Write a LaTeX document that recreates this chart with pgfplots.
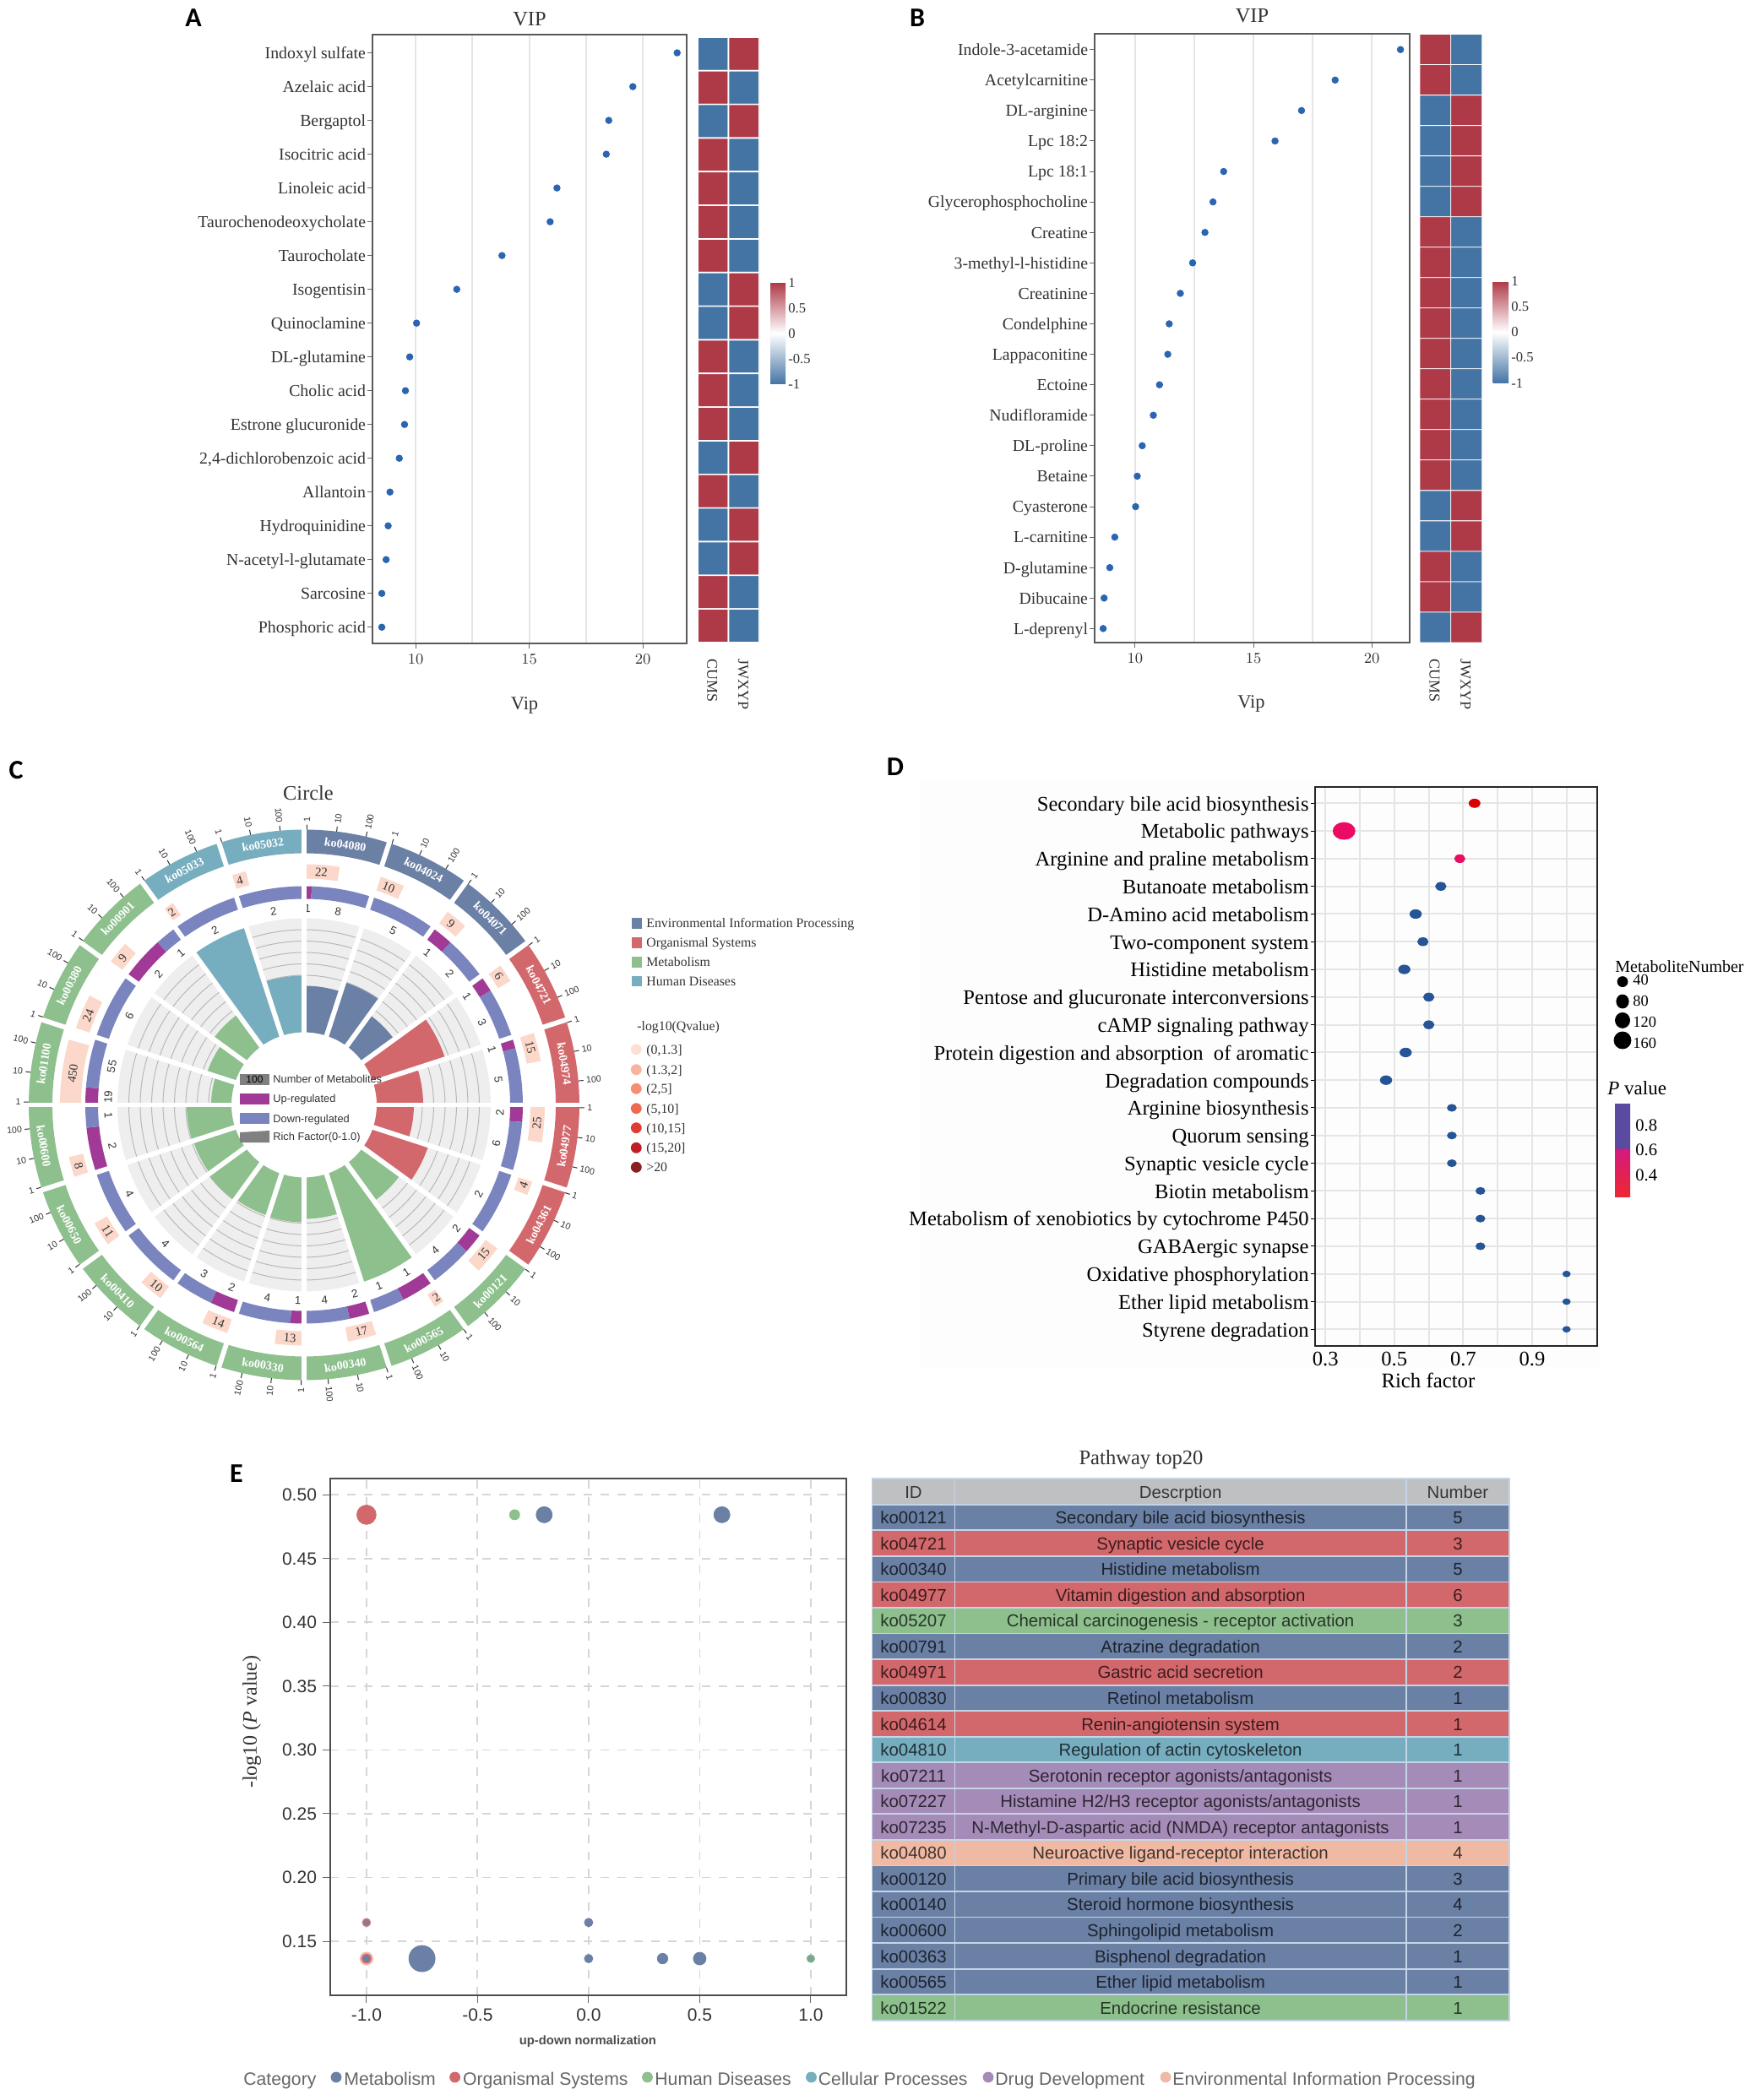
\documentclass[border=0pt]{standalone}
\usepackage{fontspec}
\setmainfont{Liberation Serif}
\newfontfamily\arial{Liberation Sans}
\newfontfamily\panelfont{Carlito}
\usepackage{pgfplots}
\pgfplotsset{compat=1.18}
\usepgfplotslibrary{polar}

\newcommand\fs[1]{\fontsize{#1pt}{#1pt}\selectfont}

\definecolor{dotblue}{HTML}{2B64B0}
\definecolor{envc}{HTML}{6A80A4}
\definecolor{orgc}{HTML}{D3686C}
\definecolor{metc}{HTML}{8DC08D}
\definecolor{humc}{HTML}{76ADBF}
\definecolor{drugc}{HTML}{A58BB8}
\definecolor{peach}{HTML}{EFB9A4}
\definecolor{boxc}{HTML}{FBD8CA}
\definecolor{upc}{HTML}{A03A96}
\definecolor{downc}{HTML}{7A84BE}
\definecolor{gridblue}{HTML}{C5D5E8}
\definecolor{headc}{HTML}{BFC0C2}
\definecolor{txt}{HTML}{333333}
\definecolor{q1}{HTML}{FEE0D2}
\definecolor{q2}{HTML}{F9B29D}
\definecolor{q3}{HTML}{F58E72}
\definecolor{q4}{HTML}{F0694F}
\definecolor{q5}{HTML}{E03C32}
\definecolor{q6}{HTML}{BE1E24}
\definecolor{q7}{HTML}{8A1F22}

\pgfplotsset{
  colormap={rb}{rgb255(0cm)=(68,116,164) color(1cm)=(white) rgb255(2cm)=(174,58,71)},
  colormap={pv}{rgb255(0cm)=(238,40,48) rgb255(5.2cm)=(212,25,127) rgb255(5.25cm)=(91,75,160) rgb255(10cm)=(91,75,160)},
  vip/.style={
    scale only axis, anchor=north west,
    axis line style={draw=black!65,line width=1pt},
    xtick pos=bottom, ytick pos=left, tick align=outside,
    major tick length=2.8pt, tick style={draw=black!60,line width=0.5pt},
    xmajorgrids, xminorgrids, minor tick length=0pt,
    grid style={draw=black!10,line width=1pt},
    tick label style={text=txt},
    yticklabel style={font=\fs{9.9},inner sep=1pt,text height=8.8pt,text depth=2pt},
    xticklabel style={font=\fs{9.5}},
    every axis title shift=0pt,
    title style={font=\fs{12.2},text=txt,anchor=center},
    xlabel style={font=\fs{11.2},text=txt,anchor=center},
    xtick={10,15,20}, minor xtick={12.5,17.5},
  },
  heat/.style={
    scale only axis, anchor=north west,
    axis line style={draw=none}, ytick=\empty, xtick={0,1}, xticklabels={CUMS,JWXYP},
    tick style={draw=none}, xmin=-0.5, xmax=1.5,
    xticklabel style={rotate=-90,anchor=west,font=\fs{9},text=txt,xshift=6pt,yshift=-0.5pt},
    colormap name=rb, point meta min=-1, point meta max=1, colorbar,
  },
  cbar/.style={
    ytick={-1,-0.5,0,0.5,1}, yticklabels={-1,-0.5,0,0.5,1},
    major tick length=0pt, axis line style={draw=none},
    yticklabel style={font=\fs{8.3},text=txt,inner sep=1.5pt},
  },
}

% one ring sector, clock degrees and radii in px
\newcommand\sector[5]{%
  \gdef\pts{}%
  \pgfmathsetmacro\stp{(#2-#1)/12}%
  \foreach \kk in {0,...,12}{\pgfmathsetmacro\ang{90-(#1+\kk*\stp)}\xdef\pts{\pts(\ang,#4)}}%
  \foreach \kk in {12,...,0}{\pgfmathsetmacro\ang{90-(#1+\kk*\stp)}\xdef\pts{\pts(\ang,#3)}}%
  \edef\tmp{\noexpand\addplot[draw=none,fill=#5] coordinates {\pts} -- cycle;}\tmp}
\newcommand\arcl[3]{%
  \gdef\pts{}%
  \foreach \kk in {0,...,6}{\pgfmathsetmacro\ang{90-(#1+\kk*(#2-#1)/6)}\xdef\pts{\pts(\ang,#3)}}%
  \edef\tmp{\noexpand\addplot[draw=black!28,line width=0.5pt] coordinates {\pts};}\tmp}
\newcommand\ctext[4]{% clock, radius, node options, text
  \pgfmathsetmacro\tang{90-(#1)}%
  \pgfmathsetmacro\trot{(#1<90||#1>270)?-(#1):180-(#1)}%
  \edef\tmp{\noexpand\node[rotate=\trot,\unexpanded{#3}] at (axis cs:\tang,#2) {\unexpanded{#4}};}\tmp}
\newcommand\rtick[2]{%
  \pgfmathsetmacro\tang{90-(#1)}%
  \edef\tmp{\noexpand\addplot[draw=black!80,line width=0.5pt] coordinates {(\tang,326)(\tang,332)};}\tmp
  \pgfmathsetmacro\trot{(#1<180)?90-(#1):270-(#1)}%
  \pgfmathsetmacro\tsd{(#1<180)?0:1}%
  \ifdim\tsd pt<0.5pt
    \edef\tmp{\noexpand\node[rotate=\trot,anchor=west,inner sep=1pt,font=\noexpand\arial\noexpand\fs{5.3},text=txt] at (axis cs:\tang,333) {#2};}\tmp
  \else
    \edef\tmp{\noexpand\node[rotate=\trot,anchor=east,inner sep=1pt,font=\noexpand\arial\noexpand\fs{5.3},text=txt] at (axis cs:\tang,333) {#2};}\tmp
  \fi}
% start, name, colour, box arc, box text, up, down, bar radius, box extra
\newcommand\seg[9]{%
  \pgfmathsetmacro\sega{#1}%
  \pgfmathsetmacro\segb{#1+18}%
  \pgfmathsetmacro\segm{#1+9}%
  \sector{\sega}{\segb}{86}{221}{black!6.5}%
  \foreach \gr in {99.5,113,126.5,140,153.5,167,180.5,194,207.5}{\arcl{\sega}{\segb}{\gr}}%
  \sector{\sega}{\segb}{86}{#8}{#3}%
  \sector{\sega}{\segb}{298}{326}{#3}%
  \pgfmathsetmacro\boxe{#1+#4}%
  \pgfmathsetmacro\boxi{268-#9}\pgfmathsetmacro\boxo{285+#9}%
  \sector{\sega}{\boxe}{\boxi}{\boxo}{boxc}%
  \pgfmathsetmacro\segf{#1+18*#6/(#6+#7)}%
  \ifnum#6>0 \sector{\sega}{\segf}{244}{259}{upc}\fi
  \sector{\segf}{\segb}{244}{259}{downc}%
  \pgfmathsetmacro\boxm{#1+#4/2}%
  \ctext{\boxm}{276.5}{font=\fs{7.3},text=txt,inner sep=0pt}{#5}%
  \ctext{\segm}{312}{font=\bfseries\fs{7},text=white,inner sep=0pt}{#2}%
  \ifnum#6>0
    \pgfmathsetmacro\midu{(\sega+\segf)/2}%
    \ctext{\midu}{232}{font=\arial\fs{6.6},text=txt,inner sep=0pt}{#6}%
  \fi
  \pgfmathsetmacro\midd{(\segf+\segb)/2}%
  \ctext{\midd}{232}{font=\arial\fs{6.6},text=txt,inner sep=0pt}{#7}%
  \pgfmathsetmacro\tka{#1+0.6}\rtick{\tka}{1}%
  \pgfmathsetmacro\tka{#1+6.8}\rtick{\tka}{10}%
  \pgfmathsetmacro\tka{#1+13}\rtick{\tka}{100}}
\newcommand\spoke[1]{\addplot[draw=white,line width=2.9pt] coordinates {(#1,84)(#1,327)};}

% table row in px coordinates
\newcommand\trow[5]{%
  \pgfmathsetmacro\ya{1751.2+#1*30.55}\pgfmathsetmacro\yb{\ya+30.55}\pgfmathsetmacro\ym{\ya+22.9}%
  \edef\tmp{\noexpand\addplot[fill=#5,draw=gridblue,line width=0.9pt] coordinates {(1032.4,\ya)(1130.5,\ya)(1130.5,\yb)(1032.4,\yb)} -- cycle;
    \noexpand\addplot[fill=#5,draw=gridblue,line width=0.9pt] coordinates {(1130.5,\ya)(1664.8,\ya)(1664.8,\yb)(1130.5,\yb)} -- cycle;
    \noexpand\addplot[fill=#5,draw=gridblue,line width=0.9pt] coordinates {(1664.8,\ya)(1787,\ya)(1787,\yb)(1664.8,\yb)} -- cycle;
    \noexpand\node[tcell] at (axis cs:1081.5,\ym) {\unexpanded{#2}};
    \noexpand\node[tcell] at (axis cs:1397.6,\ym) {\unexpanded{#3}};
    \noexpand\node[tcell] at (axis cs:1725.9,\ym) {\unexpanded{#4}};}\tmp}
\newcommand\ldot[3]{\addplot[only marks,mark=*,mark size=#3pt,mark options={fill=#1,draw=#1}] coordinates {#2};}

\begin{document}
\begin{tikzpicture}[
  tcell/.style={font=\arial\fs{10.2},text=black,text opacity=0.72,inner sep=0pt,anchor=base},
  lgs/.style={font=\fs{7.9},text=txt,anchor=base west,inner sep=0pt},
  lgc/.style={font=\arial\fs{6.4},text=txt,anchor=base west,inner sep=0pt},
  lge/.style={font=\arial\fs{10.6},text=black!60,anchor=base west,inner sep=0pt}]
\path[use as bounding box] (0,0) rectangle (1032.5pt,1243.5pt);
\fill[black!0.8] (544.5pt,434pt) rectangle (947.5pt,782.5pt);

% panel A
\begin{axis}[vip, at={(220.5pt,1223pt)}, width=186pt, height=360.5pt,
  xmin=8.10, xmax=21.93, ymin=-0.48, ymax=17.54, ytick={0,...,17},
  yticklabels={Phosphoric acid,Sarcosine,N-acetyl-l-glutamate,Hydroquinidine,Allantoin,{2,4-dichlorobenzoic acid},Estrone glucuronide,Cholic acid,DL-glutamine,Quinoclamine,Isogentisin,Taurocholate,Taurochenodeoxycholate,Linoleic acid,Isocitric acid,Bergaptol,Azelaic acid,Indoxyl sulfate},
  title=VIP, title style={at={(axis description cs:0.5,1.0257)}},
  xlabel=Vip, xlabel style={at={(axis description cs:0.484,-0.1018)}}]
\addplot[only marks,mark=*,mark size=1.9pt,dotblue] coordinates {
 (21.51,17)(19.56,16)(18.50,15)(18.39,14)(16.22,13)(15.92,12)(13.80,11)(11.81,10)(10.04,9)
 (9.74,8)(9.55,7)(9.51,6)(9.28,5)(8.87,4)(8.79,3)(8.70,2)(8.51,1)(8.51,0)};
\end{axis}
\begin{axis}[heat, at={(413pt,1221.5pt)}, width=36.5pt, height=358.5pt, ymin=-0.5, ymax=17.5,
  colorbar style={cbar, at={(1.178,0.5947)}, anchor=north west, width=9pt, height=60.2pt}]
\addplot[matrix plot*, mesh/cols=2, mesh/rows=18, point meta=explicit, draw=white, line width=0.8pt] table[meta=c] {
x y c
0 17 -1
1 17 1
0 16 1
1 16 -1
0 15 -1
1 15 1
0 14 1
1 14 -1
0 13 1
1 13 -1
0 12 1
1 12 -1
0 11 1
1 11 -1
0 10 -1
1 10 1
0 9 -1
1 9 1
0 8 1
1 8 -1
0 7 1
1 7 -1
0 6 1
1 6 -1
0 5 -1
1 5 1
0 4 1
1 4 -1
0 3 -1
1 3 1
0 2 -1
1 2 1
0 1 1
1 1 -1
0 0 1
1 0 -1
};
\end{axis}

% panel B
\begin{axis}[vip, at={(648pt,1223.5pt)}, width=186.5pt, height=360.5pt,
  xmin=8.29, xmax=21.6, ymin=-0.46, ymax=19.52, ytick={0,...,19},
  yticklabels={L-deprenyl,Dibucaine,D-glutamine,L-carnitine,Cyasterone,Betaine,DL-proline,Nudifloramide,Ectoine,Lappaconitine,Condelphine,Creatinine,3-methyl-l-histidine,Creatine,Glycerophosphocholine,Lpc 18:1,Lpc 18:2,DL-arginine,Acetylcarnitine,Indole-3-acetamide},
  title=VIP, title style={at={(axis description cs:0.5,1.0297)}},
  xlabel=Vip, xlabel style={at={(axis description cs:0.497,-0.101)}}]
\addplot[only marks,mark=*,mark size=1.9pt,dotblue] coordinates {
 (21.21,19)(18.45,18)(17.03,17)(15.91,16)(13.74,15)(13.29,14)(12.95,13)(12.43,12)(11.91,11)(11.44,10)
 (11.38,9)(11.03,8)(10.77,7)(10.30,6)(10.09,5)(10.02,4)(9.14,3)(8.93,2)(8.69,1)(8.65,0)};
\end{axis}
\begin{axis}[heat, at={(840.5pt,1223.2pt)}, width=36.75pt, height=360.2pt, ymin=-0.5, ymax=19.5,
  colorbar style={cbar, at={(1.178,0.594)}, anchor=north west, width=9.2pt, height=60.3pt}]
\addplot[matrix plot*, mesh/cols=2, mesh/rows=20, point meta=explicit, draw=white, line width=0.4pt] table[meta=c] {
x y c
0 19 1
1 19 -1
0 18 1
1 18 -1
0 17 -1
1 17 1
0 16 -1
1 16 1
0 15 -1
1 15 1
0 14 -1
1 14 1
0 13 1
1 13 -1
0 12 1
1 12 -1
0 11 1
1 11 -1
0 10 1
1 10 -1
0 9 1
1 9 -1
0 8 1
1 8 -1
0 7 1
1 7 -1
0 6 1
1 6 -1
0 5 1
1 5 -1
0 4 -1
1 4 1
0 3 -1
1 3 1
0 2 1
1 2 -1
0 1 1
1 1 -1
0 0 -1
1 0 1
};
\end{axis}

% panel C
\begin{polaraxis}[scale only axis, width=340pt, height=340pt, at={(180pt,589.25pt)}, anchor=center,
  hide axis, clip=false, xmin=0, xmax=360, ymin=0, ymax=340]
\seg{0}{ko04080}{envc}{8.5}{22}{1}{8}{141}{0}
\seg{18}{ko04024}{envc}{6.5}{10}{0}{5}{153}{0}
\seg{36}{ko04071}{envc}{6}{9}{1}{2}{132}{0}
\seg{54}{ko04721}{orgc}{5}{6}{1}{3}{176}{0}
\seg{72}{ko04974}{orgc}{7.5}{15}{1}{5}{141}{0}
\seg{90}{ko04977}{orgc}{9}{25}{2}{6}{130}{0}
\seg{108}{ko04361}{orgc}{4}{4}{0}{2}{155}{0}
\seg{126}{ko00121}{metc}{7.5}{15}{2}{4}{141}{0}
\seg{144}{ko00565}{metc}{3}{2}{1}{1}{221}{0}
\seg{162}{ko00340}{metc}{7.5}{17}{2}{4}{135}{0}
\seg{180}{ko00330}{metc}{7}{13}{1}{4}{139}{0}
\seg{198}{ko00564}{metc}{7}{14}{2}{3}{138}{0}
\seg{216}{ko00410}{metc}{6.5}{10}{0}{4}{140}{0}
\seg{234}{ko00650}{metc}{6.5}{11}{0}{4}{138}{0}
\seg{252}{ko00600}{metc}{5.5}{8}{2}{1}{139}{0}
\seg{270}{ko01100}{metc}{15.5}{450}{19}{55}{110}{4}
\seg{288}{ko00380}{metc}{9}{24}{0}{6}{121}{0}
\seg{306}{ko00901}{metc}{6}{9}{2}{1}{133}{0}
\seg{324}{ko05033}{humc}{3}{2}{0}{2}{221}{0}
\seg{342}{ko05032}{humc}{4}{4}{0}{2}{153}{0}
\spoke{90}\spoke{72}\spoke{54}\spoke{36}\spoke{18}\spoke{0}\spoke{-18}\spoke{-36}\spoke{-54}\spoke{-72}
\spoke{-90}\spoke{-108}\spoke{-126}\spoke{-144}\spoke{-162}\spoke{-180}\spoke{-198}\spoke{-216}\spoke{-234}\spoke{-252}
\end{polaraxis}

% panel D
\begin{axis}[scale only axis, anchor=north west, at={(778.5pt,777.5pt)}, width=167pt, height=331pt,
  xmin=0.27, xmax=1.089, ymin=-0.6, ymax=19.59, ytick={0,...,19},
  yticklabels={Styrene degradation,Ether lipid metabolism,Oxidative phosphorylation,GABAergic synapse,Metabolism of xenobiotics by cytochrome P450,Biotin metabolism,Synaptic vesicle cycle,Quorum sensing,Arginine biosynthesis,Degradation compounds,Protein digestion and absorption~~of aromatic,cAMP signaling pathway,Pentose and glucuronate interconversions,Histidine metabolism,Two-component system,D-Amino acid metabolism,Butanoate metabolism,Arginine and praline metabolism,Metabolic pathways,Secondary bile acid biosynthesis},
  xtick={0.3,0.5,0.7,0.9}, xticklabels={0.3,0.5,0.7,0.9}, minor xtick={0.4,0.6,0.8,1.0},
  axis line style={draw=black!85,line width=1pt}, xtick pos=bottom, ytick pos=left, tick align=outside,
  major tick length=2.5pt, minor tick length=0pt, xtick style={draw=none}, ytick style={draw=black,line width=0.5pt},
  grid=both, grid style={draw=black!10,line width=1pt},
  yticklabel style={font=\fs{12.3},inner sep=1pt,text height=11.4pt,text depth=2.6pt}, xticklabel style={font=\fs{12.3},inner sep=1pt},
  xlabel=Rich factor, xlabel style={font=\fs{12.4},anchor=center,at={(axis description cs:0.401,-0.062)}}]
\addplot[only marks,mark=*,mark size=2.5pt,mark options={xscale=1.3,fill=red!85!black,draw=red!85!black},color=red] coordinates {(0.733,19)};
\addplot[only marks,mark=*,mark size=5pt,mark options={xscale=1.3,fill=magenta!60!red,draw=magenta!60!red}] coordinates {(0.354,18)};
\addplot[only marks,mark=*,mark size=2.35pt,mark options={xscale=1.3,fill=magenta!60!red,draw=magenta!60!red}] coordinates {(0.69,17)};
\addplot[only marks,mark=*,mark size=2.4pt,mark options={xscale=1.3,fill=dotblue!85!black,draw=dotblue!85!black}] coordinates {(0.635,16)(0.583,14)(0.6,12)(0.6,11)};
\addplot[only marks,mark=*,mark size=2.6pt,mark options={xscale=1.3,fill=dotblue!85!black,draw=dotblue!85!black}] coordinates {(0.562,15)(0.529,13)(0.533,10)(0.476,9)};
\addplot[only marks,mark=*,mark size=2.05pt,mark options={xscale=1.3,fill=dotblue!85!black,draw=dotblue!85!black}] coordinates {(0.667,8)(0.667,7)(0.667,6)(0.75,5)(0.75,4)(0.75,3)};
\addplot[only marks,mark=*,mark size=1.7pt,mark options={xscale=1.3,fill=dotblue!85!black,draw=dotblue!85!black}] coordinates {(1,2)(1,1)(1,0)};
\end{axis}
\begin{axis}[hide axis, scale only axis, width=9pt, height=55.5pt, anchor=north west, at={(956pt,590pt)},
  xmin=0, xmax=1, ymin=0, ymax=1, colormap name=pv, point meta min=0.217, point meta max=0.98, colorbar,
  colorbar style={at={(0,1)}, anchor=north west, width=9pt, height=55.5pt,
    ytick={0.4,0.6,0.8}, yticklabels={0.4,0.6,0.8}, major tick length=0pt, axis line style={draw=none},
    yticklabel style={font=\fs{10.3},inner sep=3pt}}]
\addplot[draw=none] coordinates {(0,0)(1,1)};
\end{axis}

% panel E
\begin{axis}[scale only axis, anchor=north west, at={(195.5pt,368pt)}, width=305.5pt, height=305.8pt,
  xmin=-1.163, xmax=1.16, ymin=0.1079, ymax=0.5128,
  xtick={-1,-0.5,0,0.5,1}, xticklabels={-1.0,-0.5,0.0,0.5,1.0},
  ytick={0.15,0.2,0.25,0.3,0.35,0.4,0.45,0.5}, yticklabels={0.15,0.20,0.25,0.30,0.35,0.40,0.45,0.50},
  axis line style={draw=black!70,line width=1pt}, xtick pos=bottom, ytick pos=left, tick align=outside,
  major tick length=4.5pt, tick style={draw=black!60,line width=0.5pt},
  grid=major, grid style={draw=black!16,line width=0.9pt,dash pattern=on 5pt off 5pt},
  tick label style={font=\arial\fs{10.5},text=txt},
  xlabel=up-down normalization, xlabel style={font=\arial\bfseries\fs{7.4},text=black!70,anchor=center,at={(axis description cs:0.499,-0.0906)}},
  ylabel={-log10 (\textit{P} value)}, ylabel style={font=\fs{12},text=txt,anchor=center,at={(axis description cs:-0.152,0.529)}}]
\addplot[only marks,mark=*,mark size=5.7pt,mark options={fill=orgc,draw=orgc}] coordinates {(-1,0.4844)};
\addplot[only marks,mark=*,mark size=3pt,mark options={fill=metc,draw=metc}] coordinates {(-0.333,0.4844)};
\addplot[only marks,mark=*,mark size=4.75pt,mark options={fill=envc,draw=envc}] coordinates {(-0.2,0.4844)(0.6,0.4844)};
\addplot[only marks,mark=*,mark size=2.5pt,mark options={fill=orgc!45!envc,draw=orgc!75!white}] coordinates {(-1,0.1647)};
\addplot[only marks,mark=*,mark size=2.5pt,mark options={fill=envc,draw=envc}] coordinates {(0,0.1647)(0,0.1364)};
\addplot[only marks,mark=*,mark size=3.8pt,mark options={fill=peach,draw=peach}] coordinates {(-1,0.1364)};
\addplot[only marks,mark=*,mark size=2.8pt,mark options={fill=orgc,draw=orgc}] coordinates {(-1,0.1364)};
\addplot[only marks,mark=*,mark size=1.8pt,mark options={fill=envc,draw=envc}] coordinates {(-1,0.1364)};
\addplot[only marks,mark=*,mark size=7.75pt,mark options={fill=envc,draw=envc}] coordinates {(-0.75,0.1364)};
\addplot[only marks,mark=*,mark size=3.1pt,mark options={fill=envc,draw=envc}] coordinates {(0.333,0.1364)};
\addplot[only marks,mark=*,mark size=3.75pt,mark options={fill=envc,draw=envc}] coordinates {(0.5,0.1364)};
\addplot[only marks,mark=*,mark size=2.35pt,mark options={fill=metc!55!envc,draw=metc}] coordinates {(1,0.1364)};
\end{axis}

% page-wide axis in px: panel letters, legends, table
\begin{axis}[scale only axis, at={(0pt,0pt)}, anchor=south west, width=1032.5pt, height=1243.5pt,
  hide axis, clip=false, xmin=0, xmax=2065, ymin=0, ymax=2487, y dir=reverse]
\node[font=\panelfont\bfseries\fs{16}] at (axis cs:229,21) {A};
\node[font=\panelfont\bfseries\fs{16}] at (axis cs:1086,21) {B};
\node[font=\panelfont\bfseries\fs{16}] at (axis cs:19,912) {C};
\node[font=\panelfont\bfseries\fs{16}] at (axis cs:1060,908) {D};
\node[font=\panelfont\bfseries\fs{16}] at (axis cs:280,1745) {E};
\node[font=\fs{12.2},text=txt] at (axis cs:365,939) {Circle};

% circle centre key
\addplot[fill=black!50,draw=none] coordinates {(284,1271.6)(319,1271.6)(319,1284.5)(284,1284.5)} -- cycle;
\addplot[fill=upc,draw=none] coordinates {(284,1294.5)(319,1294.5)(319,1308)(284,1308)} -- cycle;
\addplot[fill=downc,draw=none] coordinates {(284,1318)(319,1318)(319,1331)(284,1331)} -- cycle;
\addplot[fill=black!50,draw=none] coordinates {(284,1341)(319,1339)(319,1353)(284,1353)} -- cycle;
\node[font=\arial\fs{6},text=black] at (axis cs:301.5,1278) {100};
\node[lgc] at (axis cs:323,1282.5) {Number of Metabolites};
\node[lgc] at (axis cs:323,1305.5) {Up-regulated};
\node[lgc] at (axis cs:323,1329) {Down-regulated};
\node[lgc] at (axis cs:323,1350.5) {Rich Factor(0-1.0)};

% circle legends
\addplot[fill=envc,draw=none] coordinates {(747.7,1087)(760,1087)(760,1099.5)(747.7,1099.5)} -- cycle;
\addplot[fill=orgc,draw=none] coordinates {(747.7,1110)(760,1110)(760,1122.5)(747.7,1122.5)} -- cycle;
\addplot[fill=metc,draw=none] coordinates {(747.7,1133)(760,1133)(760,1145.5)(747.7,1145.5)} -- cycle;
\addplot[fill=humc,draw=none] coordinates {(747.7,1155.5)(760,1155.5)(760,1168)(747.7,1168)} -- cycle;
\node[lgs] at (axis cs:765,1098.5) {Environmental Information Processing};
\node[lgs] at (axis cs:765,1121.5) {Organismal Systems};
\node[lgs] at (axis cs:765,1144.2) {Metabolism};
\node[lgs] at (axis cs:765,1167) {Human Diseases};
\node[lgs] at (axis cs:754,1220.2) {-log10(Qvalue)};
\ldot{q1}{(753.3,1242.7)}{3}
\ldot{q2}{(753.3,1266.7)}{3}
\ldot{q3}{(753.3,1289.3)}{3}
\ldot{q4}{(753.3,1312.7)}{3}
\ldot{q5}{(753.3,1335.7)}{3}
\ldot{q6}{(753.3,1359.3)}{3}
\ldot{q7}{(753.3,1382.3)}{3}
\node[lgs] at (axis cs:765,1248) {(0,1.3]};
\node[lgs] at (axis cs:765,1272) {(1.3,2]};
\node[lgs] at (axis cs:765,1294.6) {(2,5]};
\node[lgs] at (axis cs:765,1318) {(5,10]};
\node[lgs] at (axis cs:765,1341) {(10,15]};
\node[lgs] at (axis cs:765,1364.6) {(15,20]};
\node[lgs] at (axis cs:765,1387.6) {>20};

% bubble and p value keys of D
\node[font=\fs{10},anchor=west,inner sep=0pt] at (axis cs:1912,1145) {MetaboliteNumber};
\addplot[only marks,mark=*,mark size=3pt,mark options={fill=black,draw=black}] coordinates {(1921,1162.6)};
\addplot[only marks,mark=*,mark size=4pt,mark options={fill=black,draw=black,xscale=0.9}] coordinates {(1921,1186)};
\addplot[only marks,mark=*,mark size=4.5pt,mark options={fill=black,draw=black,xscale=0.95}] coordinates {(1921,1208.4)};
\addplot[only marks,mark=*,mark size=5pt,mark options={fill=black,draw=black}] coordinates {(1921,1232)};
\node[font=\fs{9.2},anchor=west,inner sep=0pt] at (axis cs:1933,1160.6) {40};
\node[font=\fs{9.2},anchor=west,inner sep=0pt] at (axis cs:1933,1185.5) {80};
\node[font=\fs{9.2},anchor=west,inner sep=0pt] at (axis cs:1933,1210.4) {120};
\node[font=\fs{9.2},anchor=west,inner sep=0pt] at (axis cs:1933,1235.8) {160};
\node[font=\fs{11.5},anchor=west,inner sep=0pt] at (axis cs:1903,1289) {\textit{P} value};

% E legend
\node[lge] at (axis cs:288,2469.5) {Category};
\ldot{envc}{(398,2460)}{3}
\node[lge] at (axis cs:407,2469.5) {Metabolism};
\ldot{orgc}{(538.6,2460)}{3}
\node[lge] at (axis cs:547.6,2469.5) {Organismal Systems};
\ldot{metc}{(766.5,2460)}{3}
\node[lge] at (axis cs:775,2469.5) {Human Diseases};
\ldot{humc}{(960.5,2460)}{3}
\node[lge] at (axis cs:968.5,2469.5) {Cellular Processes};
\ldot{drugc}{(1170,2460)}{3}
\node[lge] at (axis cs:1178,2469.5) {Drug Development};
\ldot{peach}{(1380,2460)}{3}
\node[lge] at (axis cs:1388,2469.5) {Environmental Information Processing};

% pathway table
\node[font=\fs{12.3},text=txt] at (axis cs:1351,1729) {Pathway top20};
\trow{0}{ID}{Descrption}{Number}{headc}
\trow{1}{ko00121}{Secondary bile acid biosynthesis}{5}{envc}
\trow{2}{ko04721}{Synaptic vesicle cycle}{3}{orgc}
\trow{3}{ko00340}{Histidine metabolism}{5}{envc}
\trow{4}{ko04977}{Vitamin digestion and absorption}{6}{orgc}
\trow{5}{ko05207}{Chemical carcinogenesis - receptor activation}{3}{metc}
\trow{6}{ko00791}{Atrazine degradation}{2}{envc}
\trow{7}{ko04971}{Gastric acid secretion}{2}{orgc}
\trow{8}{ko00830}{Retinol metabolism}{1}{envc}
\trow{9}{ko04614}{Renin-angiotensin system}{1}{orgc}
\trow{10}{ko04810}{Regulation of actin cytoskeleton}{1}{humc}
\trow{11}{ko07211}{Serotonin receptor agonists/antagonists}{1}{drugc}
\trow{12}{ko07227}{Histamine H2/H3 receptor agonists/antagonists}{1}{drugc}
\trow{13}{ko07235}{N-Methyl-D-aspartic acid (NMDA) receptor antagonists}{1}{drugc}
\trow{14}{ko04080}{Neuroactive ligand-receptor interaction}{4}{peach}
\trow{15}{ko00120}{Primary bile acid biosynthesis}{3}{envc}
\trow{16}{ko00140}{Steroid hormone biosynthesis}{4}{envc}
\trow{17}{ko00600}{Sphingolipid metabolism}{2}{envc}
\trow{18}{ko00363}{Bisphenol degradation}{1}{envc}
\trow{19}{ko00565}{Ether lipid metabolism}{1}{envc}
\trow{20}{ko01522}{Endocrine resistance}{1}{metc}
\end{axis}
\end{tikzpicture}
\end{document}
